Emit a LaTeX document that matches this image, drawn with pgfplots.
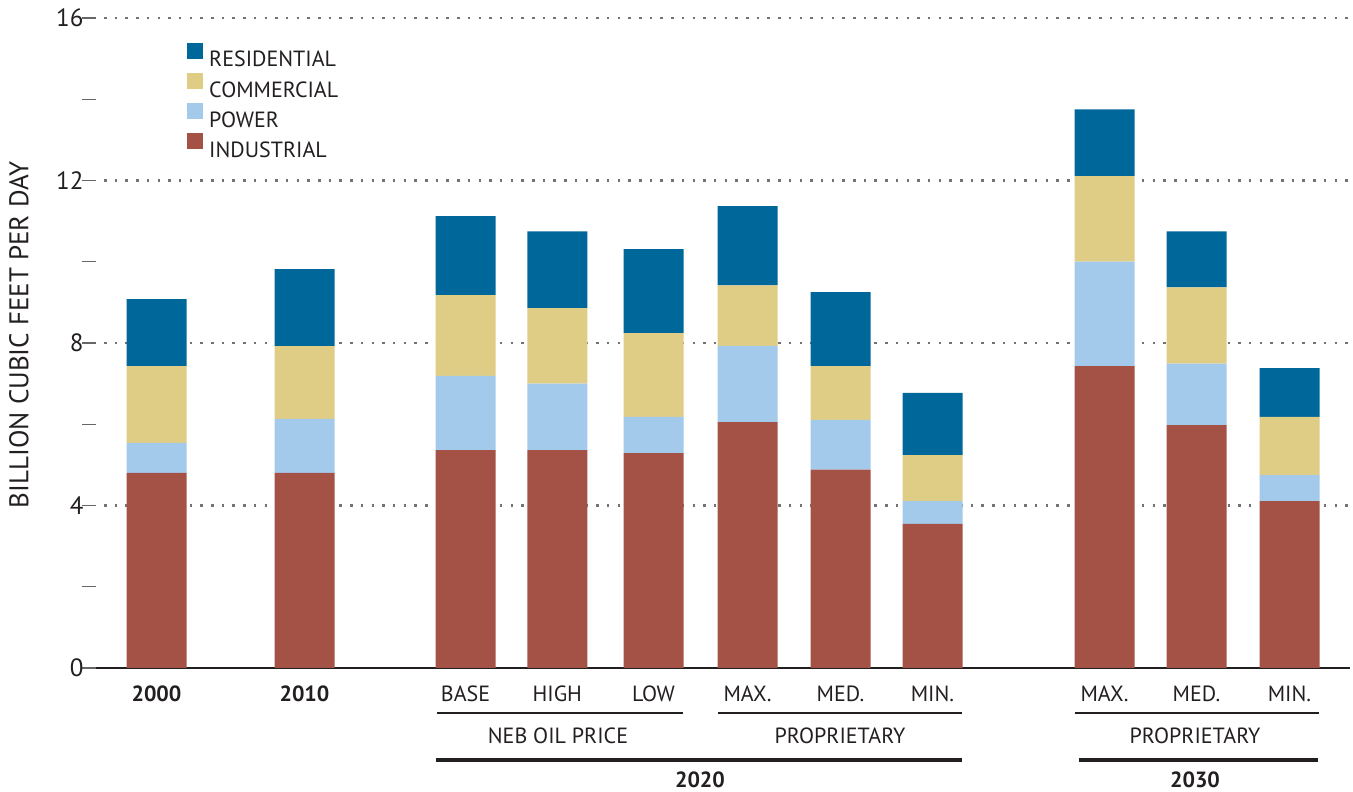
\documentclass[border=0pt]{standalone}
\usepackage{fontspec}
\setmainfont{PT Sans}
\usepackage{pgfplots}
\usepackage{pgfplotstable}
\pgfplotsset{compat=1.18}
\definecolor{cInd}{RGB}{164,81,70}
\definecolor{cPow}{RGB}{163,201,235}
\definecolor{cCom}{RGB}{223,205,133}
\definecolor{cRes}{RGB}{0,103,154}
\definecolor{txt}{RGB}{35,31,32}
\newcommand\lbl{\fontsize{22bp}{26bp}\selectfont}
\newcommand\tkl{\fontsize{25bp}{28bp}\selectfont}
\newcommand\ylb{\fontsize{27bp}{30bp}\selectfont}
\pgfplotstableread{
x      ind   pow   com   res
156.5  4.80  0.74  1.89  1.65
304.5  4.80  1.33  1.79  1.90
465.5  5.36  1.83  1.99  1.94
557.3  5.36  1.64  1.86  1.89
653.5  5.29  0.89  2.06  2.07
747.5  6.05  1.88  1.49  1.95
840.5  4.88  1.23  1.32  1.82
932.5  3.55  0.56  1.13  1.53
1104.5 7.43  2.57  2.11  1.64
1196.5 5.98  1.51  1.88  1.38
1289.5 4.11  0.64  1.43  1.20
}\data
\begin{document}
\begin{tikzpicture}
\useasboundingbox (-96bp,-124bp) rectangle (1257bp,668bp);
\begin{axis}[
  at={(0,0)}, anchor=south west,
  scale only axis, width=1254bp, height=650bp,
  xmin=96, xmax=1350, ymin=0, ymax=16,
  ybar stacked, bar width=60,
  axis x line=bottom, axis y line=left,
  x axis line style={-, line width=2.5bp, draw=txt},
  y axis line style={draw=none},
  xtick=\empty,
  ytick={0,2,...,16}, yticklabels={0,,4,,8,,12,,16},
  tick align=outside, major tick length=14bp,
  y tick style={line width=1.2bp, draw=black!60},
  yticklabel style={font=\tkl, text=txt, xshift=5bp},
  /pgf/number format/assume math mode=true,
  extra y ticks={4,8,12,16}, extra y tick labels={},
  extra y tick style={grid=major, major tick length=0bp,
     major grid style={draw=black!55, line width=2.5bp, dash pattern=on 2.5bp off 8.2bp, dash phase=-8bp}},
  legend style={at={(rel axis cs:0.0726,0.962)}, anchor=north west, draw=none, fill=none,
     font=\lbl, text=txt, inner sep=0pt, row sep=6.2bp,
     cells={anchor=west},
     nodes={inner sep=0pt, text height=16bp, text depth=0bp}},
  reverse legend,
  legend image code/.code={\fill[#1] (0bp,0bp) rectangle (16bp,16bp); \path (22bp,8bp);},
]
\addplot[fill=cInd, draw=none] table[x=x, y=ind] {\data};
\addlegendentry{INDUSTRIAL}
\addplot[fill=cPow, draw=none] table[x=x, y=pow] {\data};
\addlegendentry{POWER}
\addplot[fill=cCom, draw=none] table[x=x, y=com] {\data};
\addlegendentry{COMMERCIAL}
\addplot[fill=cRes, draw=none] table[x=x, y=res] {\data};
\addlegendentry{RESIDENTIAL}
\end{axis}
\begin{scope}[shift={(-96bp,668bp)}, x=1bp, y=-1bp, every node/.style={font=\lbl, text=txt, inner sep=0pt}]
  \node[rotate=90, anchor=center, font=\ylb] at (19,335) {BILLION CUBIC FEET PER DAY};
  \node[anchor=base] at (156.5,702) {\bfseries 2000};
  \node[anchor=base] at (304.5,702) {\bfseries 2010};
  \node[anchor=base] at (465.5,702) {BASE};
  \node[anchor=base] at (557.3,702) {HIGH};
  \node[anchor=base] at (653.5,702) {LOW};
  \node[anchor=base] at (747.5,702) {MAX.};
  \node[anchor=base] at (840.5,702) {MED.};
  \node[anchor=base] at (932.5,702) {MIN.};
  \node[anchor=base] at (1104.5,702) {MAX.};
  \node[anchor=base] at (1196.5,702) {MED.};
  \node[anchor=base] at (1289.5,702) {MIN.};
  \draw[txt, line width=1.5bp] (437,713)--(683,713) (718,713)--(962,713) (1075,713)--(1319,713);
  \node[anchor=base] at (558,744) {NEB OIL PRICE};
  \node[anchor=base] at (840,744) {PROPRIETARY};
  \node[anchor=base] at (1195,744) {PROPRIETARY};
  \draw[txt, line width=4bp] (436,760)--(962,760) (1079,760)--(1318,760);
  \node[anchor=base] at (700,788) {\bfseries 2020};
  \node[anchor=base] at (1195,788) {\bfseries 2030};
\end{scope}
\end{tikzpicture}
\end{document}
